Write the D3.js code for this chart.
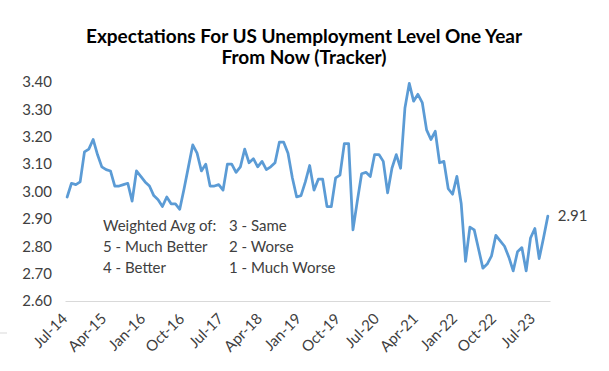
<!DOCTYPE html>
<html>
<head>
<meta charset="utf-8">
<script src="https://cdn.jsdelivr.net/npm/d3@7"></script>
<style>
  body { margin: 0; background: #fff; }
  .visHolder text { font-family: Lato, "Open Sans", sans-serif; }
</style>
</head>
<body>
<div class="visHolder"></div>
<script>
// monthly readings, Jul-14 .. Oct-23
let startMonth = new Date(2014, 6, 1);
let values = [
  2.98, 3.03, 3.025, 3.035, 3.145, 3.155, 3.19, 3.135, 3.09, 3.08,
  3.075, 3.02, 3.02, 3.025, 3.03, 2.965, 3.075, 3.055, 3.035, 3.02,
  2.985, 2.97, 2.945, 2.98, 2.955, 2.955, 2.935, 3.01, 3.09, 3.17,
  3.14, 3.075, 3.10, 3.02, 3.02, 3.025, 3.005, 3.10, 3.10, 3.07,
  3.09, 3.155, 3.105, 3.12, 3.09, 3.11, 3.08, 3.09, 3.105, 3.18,
  3.18, 3.14, 3.05, 2.98, 2.985, 3.035, 3.095, 3.005, 3.045, 3.045,
  2.945, 2.945, 3.05, 3.06, 3.175, 3.175, 2.86, 2.965, 3.065, 3.07,
  3.055, 3.135, 3.135, 3.11, 2.995, 3.085, 3.135, 3.085, 3.305, 3.395,
  3.33, 3.355, 3.325, 3.225, 3.19, 3.22, 3.105, 3.11, 3.01, 2.99,
  3.055, 2.955, 2.745, 2.87, 2.86, 2.79, 2.72, 2.735, 2.765, 2.84,
  2.82, 2.80, 2.76, 2.71, 2.78, 2.795, 2.71, 2.83, 2.865, 2.755,
  2.83, 2.91
];
let xTickLabels = ["Jul-14", "Apr-15", "Jan-16", "Oct-16", "Jul-17", "Apr-18", "Jan-19",
  "Oct-19", "Jul-20", "Apr-21", "Jan-22", "Oct-22", "Jul-23"];
let yTicks = [2.6, 2.7, 2.8, 2.9, 3.0, 3.1, 3.2, 3.3, 3.4];
let titleLines = ["Expectations For US Unemployment Level One Year", "From Now (Tracker)"];
let noteLeft = ["Weighted Avg of:", "5 - Much Better", "4 - Better"];
let noteRight = ["3 - Same", "2 - Worse", "1 - Much Worse"];

let width = 609;
let height = 371;

let months = values.map((d, i) => d3.timeMonth.offset(startMonth, i));
let fmt = d3.timeFormat("%b-%y");
let labels = months.map((m) => fmt(m));

let svg = d3
  .select(".visHolder")
  .append("svg")
  .attr("width", width)
  .attr("height", height);

svg.append("rect").attr("width", width).attr("height", height).attr("fill", "#fff");

let xScale = d3.scalePoint().domain(labels).range([65, 550]).padding(0.5);
let yScale = d3.scaleLinear().domain([2.6, 3.4]).range([301, 82]);

// title
svg
  .append("g")
  .selectAll("text")
  .data(titleLines)
  .enter()
  .append("text")
  .attr("x", 304)
  .attr("y", (d, i) => 43 + i * 21)
  .attr("text-anchor", "middle")
  .attr("font-size", 19)
  .attr("font-weight", "bold")
  .attr("fill", "#000")
  .text((d) => d);

// y axis: labels only
let yAxis = d3
  .axisLeft(yScale)
  .tickValues(yTicks)
  .tickFormat(d3.format(".2f"))
  .tickSize(0)
  .tickPadding(13);

svg
  .append("g")
  .attr("id", "y-axis")
  .attr("transform", "translate(65,0)")
  .call(yAxis)
  .call((g) => g.select(".domain").remove())
  .selectAll("text")
  .attr("font-size", 15)
  .attr("fill", "#404040");

// x axis: baseline + rotated labels
let xAxis = d3.axisBottom(xScale).tickValues(xTickLabels).tickSize(0).tickSizeOuter(0);

let xg = svg
  .append("g")
  .attr("id", "x-axis")
  .attr("transform", "translate(0," + yScale(2.6) + ")")
  .call(xAxis);

xg.select(".domain").attr("stroke", "#d9d9d9").attr("stroke-width", 1);

xg.selectAll(".tick text")
  .attr("font-size", 15)
  .attr("fill", "#404040")
  .attr("text-anchor", "end")
  .attr("dy", "0.35em")
  .attr("x", 0)
  .attr("y", 0)
  .attr("transform", "translate(-3,15) rotate(-45)");

// small stray rule at left edge
svg
  .append("line")
  .attr("x1", 0)
  .attr("x2", 7)
  .attr("y1", 333)
  .attr("y2", 333)
  .attr("stroke", "#d9d9d9");

// the series
let line = d3
  .line()
  .x((d, i) => xScale(labels[i]))
  .y((d) => yScale(d));

svg
  .append("path")
  .datum(values)
  .attr("d", line)
  .attr("fill", "none")
  .attr("stroke", "#5b9bd5")
  .attr("stroke-width", 2.75)
  .attr("stroke-linejoin", "round")
  .attr("stroke-linecap", "round");

// last value label
let last = values.length - 1;
svg
  .append("text")
  .attr("x", xScale(labels[last]) + 10)
  .attr("y", yScale(values[last]))
  .attr("dy", "0.35em")
  .attr("font-size", 15)
  .attr("fill", "#404040")
  .text(values[last].toFixed(2));

// legend note for the weighting
let note = svg.append("g").attr("font-size", 15).attr("fill", "#404040");

note
  .selectAll(".nl")
  .data(noteLeft)
  .enter()
  .append("text")
  .attr("class", "nl")
  .attr("x", 103)
  .attr("y", (d, i) => 226 + i * 21)
  .attr("dy", "0.35em")
  .text((d) => d);

note
  .selectAll(".nr")
  .data(noteRight)
  .enter()
  .append("text")
  .attr("class", "nr")
  .attr("x", 229)
  .attr("y", (d, i) => 226 + i * 21)
  .attr("dy", "0.35em")
  .text((d) => d);
</script>
</body>
</html>
